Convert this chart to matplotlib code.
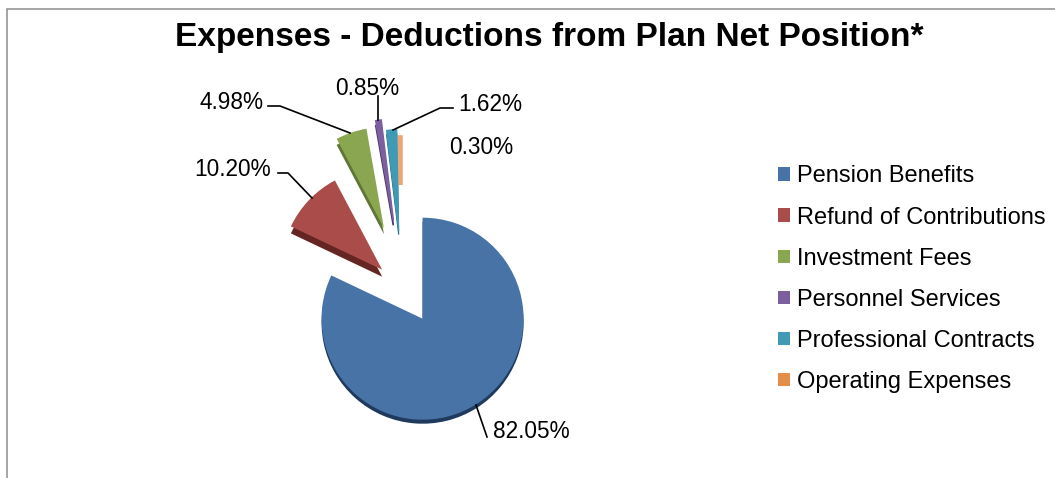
import matplotlib
matplotlib.use("Agg")
import matplotlib.pyplot as plt
from matplotlib.patches import Patch
from matplotlib.path import Path

plt.rcParams['font.family'] = ['Liberation Sans', 'DejaVu Sans']

title = "Expenses - Deductions from Plan Net Position*"
categories = ["Pension Benefits", "Refund of Contributions", "Investment Fees",
              "Personnel Services", "Professional Contracts", "Operating Expenses"]
shares = [82.05, 10.20, 4.98, 0.85, 1.62, 0.30]
pct_labels = ["82.05%", "10.20%", "4.98%", "0.85%", "1.62%", "0.30%"]

colors = ["#4773A6", "#AA4D4A", "#8AA650", "#7B5F9E", "#3E9AB5", "#EBA877"]
side_colors = ["#1F3A5C", "#652522", "#5F7636", "#4A3568", "#2A6F85", "#EBA877"]
legend_colors = ["#4773A6", "#AA4D4A", "#8AA650", "#7B5F9E", "#3E9AB5", "#E58E47"]
explode_px = [31, 33, 68, 73, 62, 54]
side_depth_px = [4, 7, 6, 5, 4, 0]
edge_widths = [0, 0, 0, 1.2, 0.8, 3]
x_shift_px = [0, 0, 0, -2, -3, -5]

W, H = 1055, 478
fig = plt.figure(figsize=(W / 100, H / 100), dpi=100, facecolor="white")
ax = fig.add_axes([0, 0, 1, 1])
ax.set_xlim(0, W)
ax.set_ylim(H, 0)
ax.set_aspect("equal")
ax.axis("off")

cx, cy = 406, 292.5
R = 101

def pie(cols, z):
    wedges, _ = ax.pie(shares, explode=explode_px, colors=cols, radius=R, center=(cx, cy),
                       startangle=-90, counterclock=True, frame=False,
                       wedgeprops=dict(linewidth=0, zorder=z))
    return wedges

back = pie(side_colors, 2)
front = pie(colors, 3)
for w, d, s, lw, sc in zip(back, side_depth_px, x_shift_px, edge_widths, side_colors):
    x, y = w.center
    w.set_center((x + s, y + d))
    w.set_edgecolor(sc)
    w.set_linewidth(lw)
for w, s, lw, c in zip(front, x_shift_px, edge_widths, colors):
    x, y = w.center
    w.set_center((x + s, y))
    w.set_edgecolor(c)
    w.set_linewidth(lw)
ax.set_xlim(0, W)
ax.set_ylim(H, 0)
ax.set_aspect("equal")

# orange slice is only visible in its outer part
clip_path = Path([(380, 120), (420, 120), (420, 185), (380, 185), (380, 120)])
for w in (front[5], back[5]):
    w.set_clip_on(True)
    w.set_clip_path(clip_path, ax.transData)
front[5].set_zorder(2.5)

# frame
ax.plot([6.5, 6.5, W], [H, 8.5, 8.5], color="#8C8C8C", lw=1.1, zorder=1, solid_joinstyle="miter")

ax.text(549, 37, title, fontsize=24, fontweight="bold", ha="center", va="center", color="black")

label_xy = [(531, 431), (232.5, 170), (232, 102), (367, 88), (490, 104), (481, 147)]
for s, (x, y) in zip(pct_labels, label_xy):
    ax.text(x, y, s, fontsize=16.3, ha="center", va="center", color="black")

leaders = [
    ([476, 487], [405, 437]),
    ([278, 288, 312], [173, 173, 198]),
    ([268, 280, 350], [106, 106, 133]),
    ([378, 378], [96, 120]),
    ([453, 440, 393], [108, 108, 130]),
]
for xs, ys in leaders:
    ax.plot(xs, ys, color="black", lw=1.2, zorder=5)

handles = [Patch(facecolor=c, edgecolor="none") for c in legend_colors]
ax.legend(handles, categories, loc="upper left", bbox_to_anchor=(778 / W, 1 - 165.5 / H),
          bbox_transform=fig.transFigure, frameon=False, fontsize=17, labelspacing=0.808,
          handlelength=0.5, handleheight=0.5, handletextpad=0.3, borderpad=0, borderaxespad=0)

fig.savefig("out.png", dpi=100)
